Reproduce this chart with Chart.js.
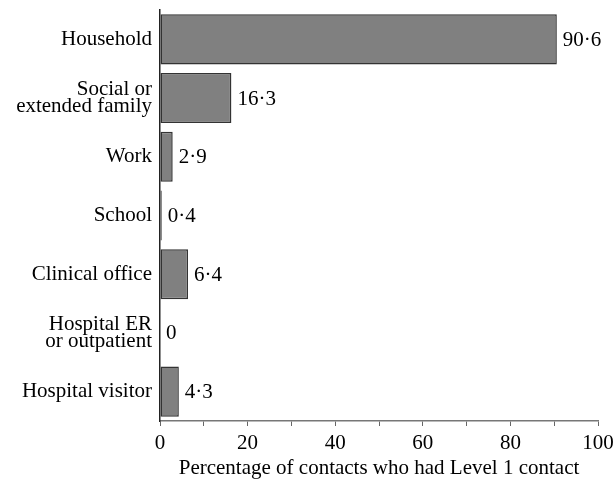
<!DOCTYPE html>
<html>
<head>
<meta charset="utf-8">
<script src="https://cdn.jsdelivr.net/npm/chart.js@4"></script>
<style>
  html, body { margin: 0; padding: 0; background: #fff; }
  #wrap { width: 614px; height: 481px; }
</style>
</head>
<body>
<div id="wrap"><canvas id="bars"></canvas></div>
<script>
const categories = [
  ['Household'],
  ['Social or', 'extended family'],
  ['Work'],
  ['School'],
  ['Clinical office'],
  ['Hospital ER', 'or outpatient'],
  ['Hospital visitor']
];
const percentages = [90.6, 16.3, 2.9, 0.4, 6.4, 0, 4.3];
const xTicks = [0, 20, 40, 60, 80, 100];

const serif = '"Liberation Serif", "Times New Roman", serif';

// value labels next to each bar, with the middle dot decimal
const valueLabels = {
  id: 'valueLabels',
  afterDatasetsDraw(chart) {
    const ctx = chart.ctx;
    const meta = chart.getDatasetMeta(0);
    ctx.save();
    ctx.font = '21px ' + serif;
    ctx.fillStyle = '#000';
    ctx.textAlign = 'left';
    ctx.textBaseline = 'middle';
    meta.data.forEach((bar, i) => {
      const v = percentages[i];
      const txt = v === 0 ? '0' : v.toFixed(1).replace('.', '\u00B7');
      ctx.fillText(txt, bar.x + 6, bar.y + 1);
    });
    ctx.restore();
  }
};

new Chart(document.querySelector('#bars'), {
  type: 'bar',
  data: {
    labels: categories,
    datasets: [{
      data: percentages,
      backgroundColor: '#808080',
      borderColor: '#333333',
      borderWidth: 1.5,
      borderSkipped: false,
      barPercentage: 0.853,
      categoryPercentage: 1
    }]
  },
  options: {
    indexAxis: 'y',
    responsive: true,
    maintainAspectRatio: false,
    animation: false,
    layout: { padding: { top: 10, right: 16, bottom: 0, left: 0 } },
    plugins: {
      legend: { display: false },
      tooltip: { enabled: false }
    },
    scales: {
      x: {
        min: 0,
        max: 100,
        ticks: {
          stepSize: 10,
          autoSkip: false,
          maxRotation: 0,
          color: '#000',
          font: { family: serif, size: 21 },
          padding: 5,
          callback: v => xTicks.includes(v) ? String(v) : ''
        },
        grid: { drawOnChartArea: false, drawTicks: true, tickLength: 5, color: '#666' },
        border: { display: true, color: '#777', width: 1.5 },
        title: {
          display: true,
          text: 'Percentage of contacts who had Level 1 contact',
          color: '#000',
          font: { family: serif, size: 21 },
          padding: { top: 0, bottom: 0 }
        },
        afterFit(scale) {
          scale.height = 60;
          scale.paddingLeft = 0;
          scale.paddingRight = 0;
        }
      },
      y: {
        ticks: {
          color: '#000',
          font: { family: serif, size: 21, lineHeight: 0.82 },
          padding: 8
        },
        grid: { display: false, drawTicks: false },
        border: { display: true, color: '#222', width: 1.5 },
        afterFit(scale) {
          scale.width = 160;
          scale.paddingTop = 0;
          scale.paddingBottom = 0;
        }
      }
    }
  },
  plugins: [valueLabels]
});
</script>
</body>
</html>
